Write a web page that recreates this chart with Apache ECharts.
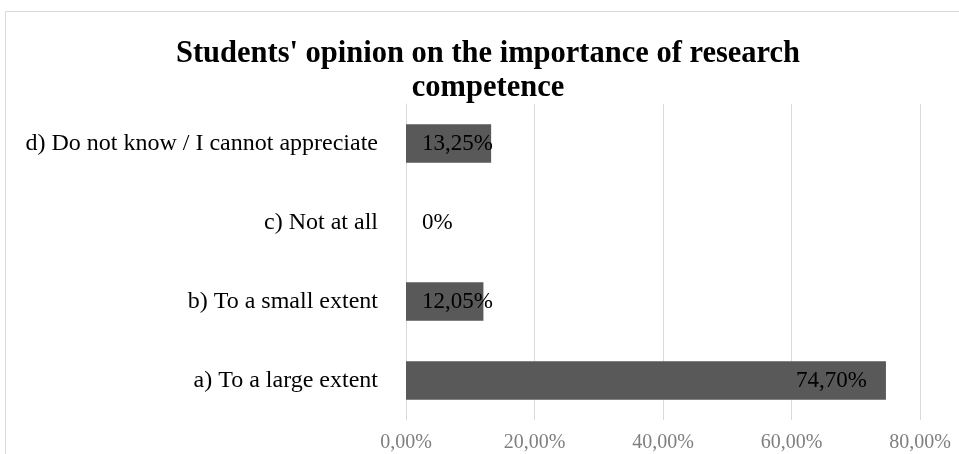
<!DOCTYPE html>
<html><head><meta charset="utf-8">
<script src="https://cdn.jsdelivr.net/npm/echarts@6/dist/echarts.min.js"></script>
<style>html,body{margin:0;padding:0;background:#fff}#c{width:959px;height:454px}</style>
</head><body><div id="c"></div>
<script>
const titleText = "Students' opinion on the importance of research\ncompetence";
const categories = ["a) To a large extent", "b) To a small extent", "c) Not at all", "d) Do not know / I cannot appreciate"];
const values = [74.70, 12.05, 0, 13.25];
const valueLabels = ["74,70%", "12,05%", "0%", "13,25%"];
const xTicks = {min: 0, max: 80, interval: 20};

const chart = echarts.init(document.getElementById('c'), null, {renderer: 'canvas'});
const font = '"Liberation Serif", "Times New Roman", serif';
chart.setOption({
  animation: false,
  textStyle: {fontFamily: font},
  graphic: [{type: 'rect', shape: {x: 5.5, y: 11.5, width: 1000, height: 600}, style: {fill: 'none', stroke: '#d9d9d9', lineWidth: 1}, z: -1}],
  title: {
    text: titleText, left: 483, top: 32, textAlign: 'center',
    textStyle: {fontFamily: font, fontWeight: 'bold', fontSize: 30.5, color: '#000', lineHeight: 34}
  },
  grid: {left: 406, right: 39, top: 104, bottom: 34, containLabel: false},
  xAxis: {
    type: 'value', min: xTicks.min, max: xTicks.max, interval: xTicks.interval,
    axisLine: {show: false}, axisTick: {show: false},
    splitLine: {lineStyle: {color: '#d9d9d9', width: 1}},
    axisLabel: {fontFamily: font, fontSize: 20, color: '#7f7f7f', margin: 13,
      formatter: v => v.toFixed(2).replace('.', ',') + '%'}
  },
  yAxis: {
    type: 'category', data: categories,
    axisLine: {show: true, lineStyle: {color: '#d9d9d9'}}, axisTick: {show: false},
    axisLabel: {fontFamily: font, fontSize: 24, color: '#000', margin: 28}
  },
  series: [{
    type: 'bar', data: values.map((v, i) => ({
      value: v,
      label: i === 0 ? {position: 'insideRight', distance: 19} : {position: 'insideLeft', distance: 16}
    })),
    barWidth: '49%',
    itemStyle: {color: '#595959'},
    label: {show: true, fontFamily: font, fontSize: 23, color: '#000',
      formatter: p => valueLabels[p.dataIndex]}
  }]
});
</script></body></html>
